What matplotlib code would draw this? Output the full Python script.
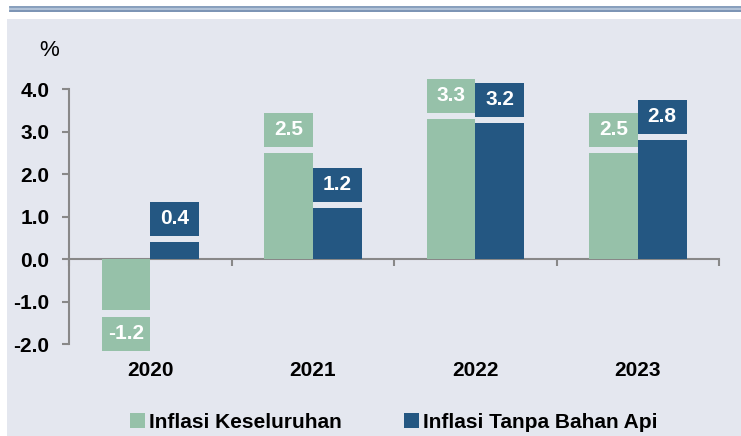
import numpy as np
import matplotlib
matplotlib.use("Agg")
import matplotlib.pyplot as plt
from matplotlib.patches import Rectangle, Patch
from matplotlib.lines import Line2D

years = ["2020", "2021", "2022", "2023"]
headline = [-1.2, 2.5, 3.3, 2.5]
core = [0.4, 1.2, 3.2, 2.8]
series_names = ["Inflasi Keseluruhan", "Inflasi Tanpa Bahan Api"]
yticks = [-2.0, -1.0, 0.0, 1.0, 2.0, 3.0, 4.0]

GREEN = "#96c1a9"
BLUE = "#245782"
BG = "#e4e7ef"
AXIS = "#888888"

plt.rcParams["font.family"] = ["Liberation Sans", "DejaVu Sans"]

W, H = 741, 436
fig = plt.figure(figsize=(W / 100, H / 100), dpi=100)
fig.patch.set_facecolor("white")

# panel background + double rule at the top
fig.add_artist(Rectangle((7 / W, 0), 1, 1 - 19 / H, transform=fig.transFigure,
                         facecolor=BG, edgecolor="none", zorder=-10))
for yy, col, lw in [(7.5, "#7d96b6", 1.3), (9.5, "#a9bcd3", 1.3), (11.5, "#6f8aae", 1.3)]:
    fig.add_artist(Line2D([10 / W, 1], [1 - yy / H] * 2, transform=fig.transFigure,
                          color=col, lw=lw))

ax = fig.add_axes([69 / W, 79 / H, 650 / W, 293.2 / H])
ax.set_facecolor("none")
ax.set_xlim(-0.5, 3.5)
ax.set_ylim(-2.3, 4.6)

x = np.arange(len(years))
bw = 0.3
box_h, gap = 0.8, 0.15

ax.bar(x - bw / 2, headline, bw, color=GREEN, zorder=3)
ax.bar(x + bw / 2, core, bw, color=BLUE, zorder=3)

# value boxes above (or below) each bar
for xs, vals, col in [(x - bw / 2, headline, GREEN), (x + bw / 2, core, BLUE)]:
    for xi, v in zip(xs, vals):
        bottom = v + gap if v >= 0 else v - gap - box_h
        ax.bar(xi, box_h, bw, bottom=bottom, color=col, zorder=3)
        ax.text(xi, bottom + box_h / 2, f"{v:.1f}", ha="center", va="center",
                color="white", fontsize=15, fontweight="bold", zorder=4)

# axes styling
for s in ["top", "right"]:
    ax.spines[s].set_visible(False)
ax.spines["left"].set_bounds(-2, 4)
ax.spines["left"].set_color(AXIS)
ax.spines["left"].set_linewidth(1.5)
ax.spines["bottom"].set_position(("data", 0))
ax.spines["bottom"].set_color(AXIS)
ax.spines["bottom"].set_linewidth(1.5)
ax.spines["bottom"].set_zorder(2)

ax.set_yticks(yticks)
ax.set_yticklabels([f"{t:.1f}" for t in yticks], fontsize=15, fontweight="bold")
ax.tick_params(axis="y", direction="out", length=5, width=1.5, color=AXIS, pad=9)
ax.set_xticks(np.arange(-0.5, 3.6, 1.0))
ax.set_xticklabels([])
ax.tick_params(axis="x", direction="out", length=5, width=1.5, color=AXIS)

for xi, yr in zip(x, years):
    ax.text(xi, -2.62, yr, ha="center", va="center", fontsize=15,
            fontweight="bold", clip_on=False)

fig.text(49 / W, 1 - 50 / H, "%", ha="center", va="center", fontsize=16)

handles = [Patch(facecolor=GREEN), Patch(facecolor=BLUE)]
fig.legend(handles, series_names, loc="center", bbox_to_anchor=(394 / W, 1 - 422 / H),
           ncol=2, frameon=False, handlelength=0.7, handleheight=0.7,
           handletextpad=0.2, columnspacing=3.0,
           prop={"size": 15, "weight": "bold"})

fig.savefig("out.png", dpi=100, facecolor=fig.get_facecolor())
